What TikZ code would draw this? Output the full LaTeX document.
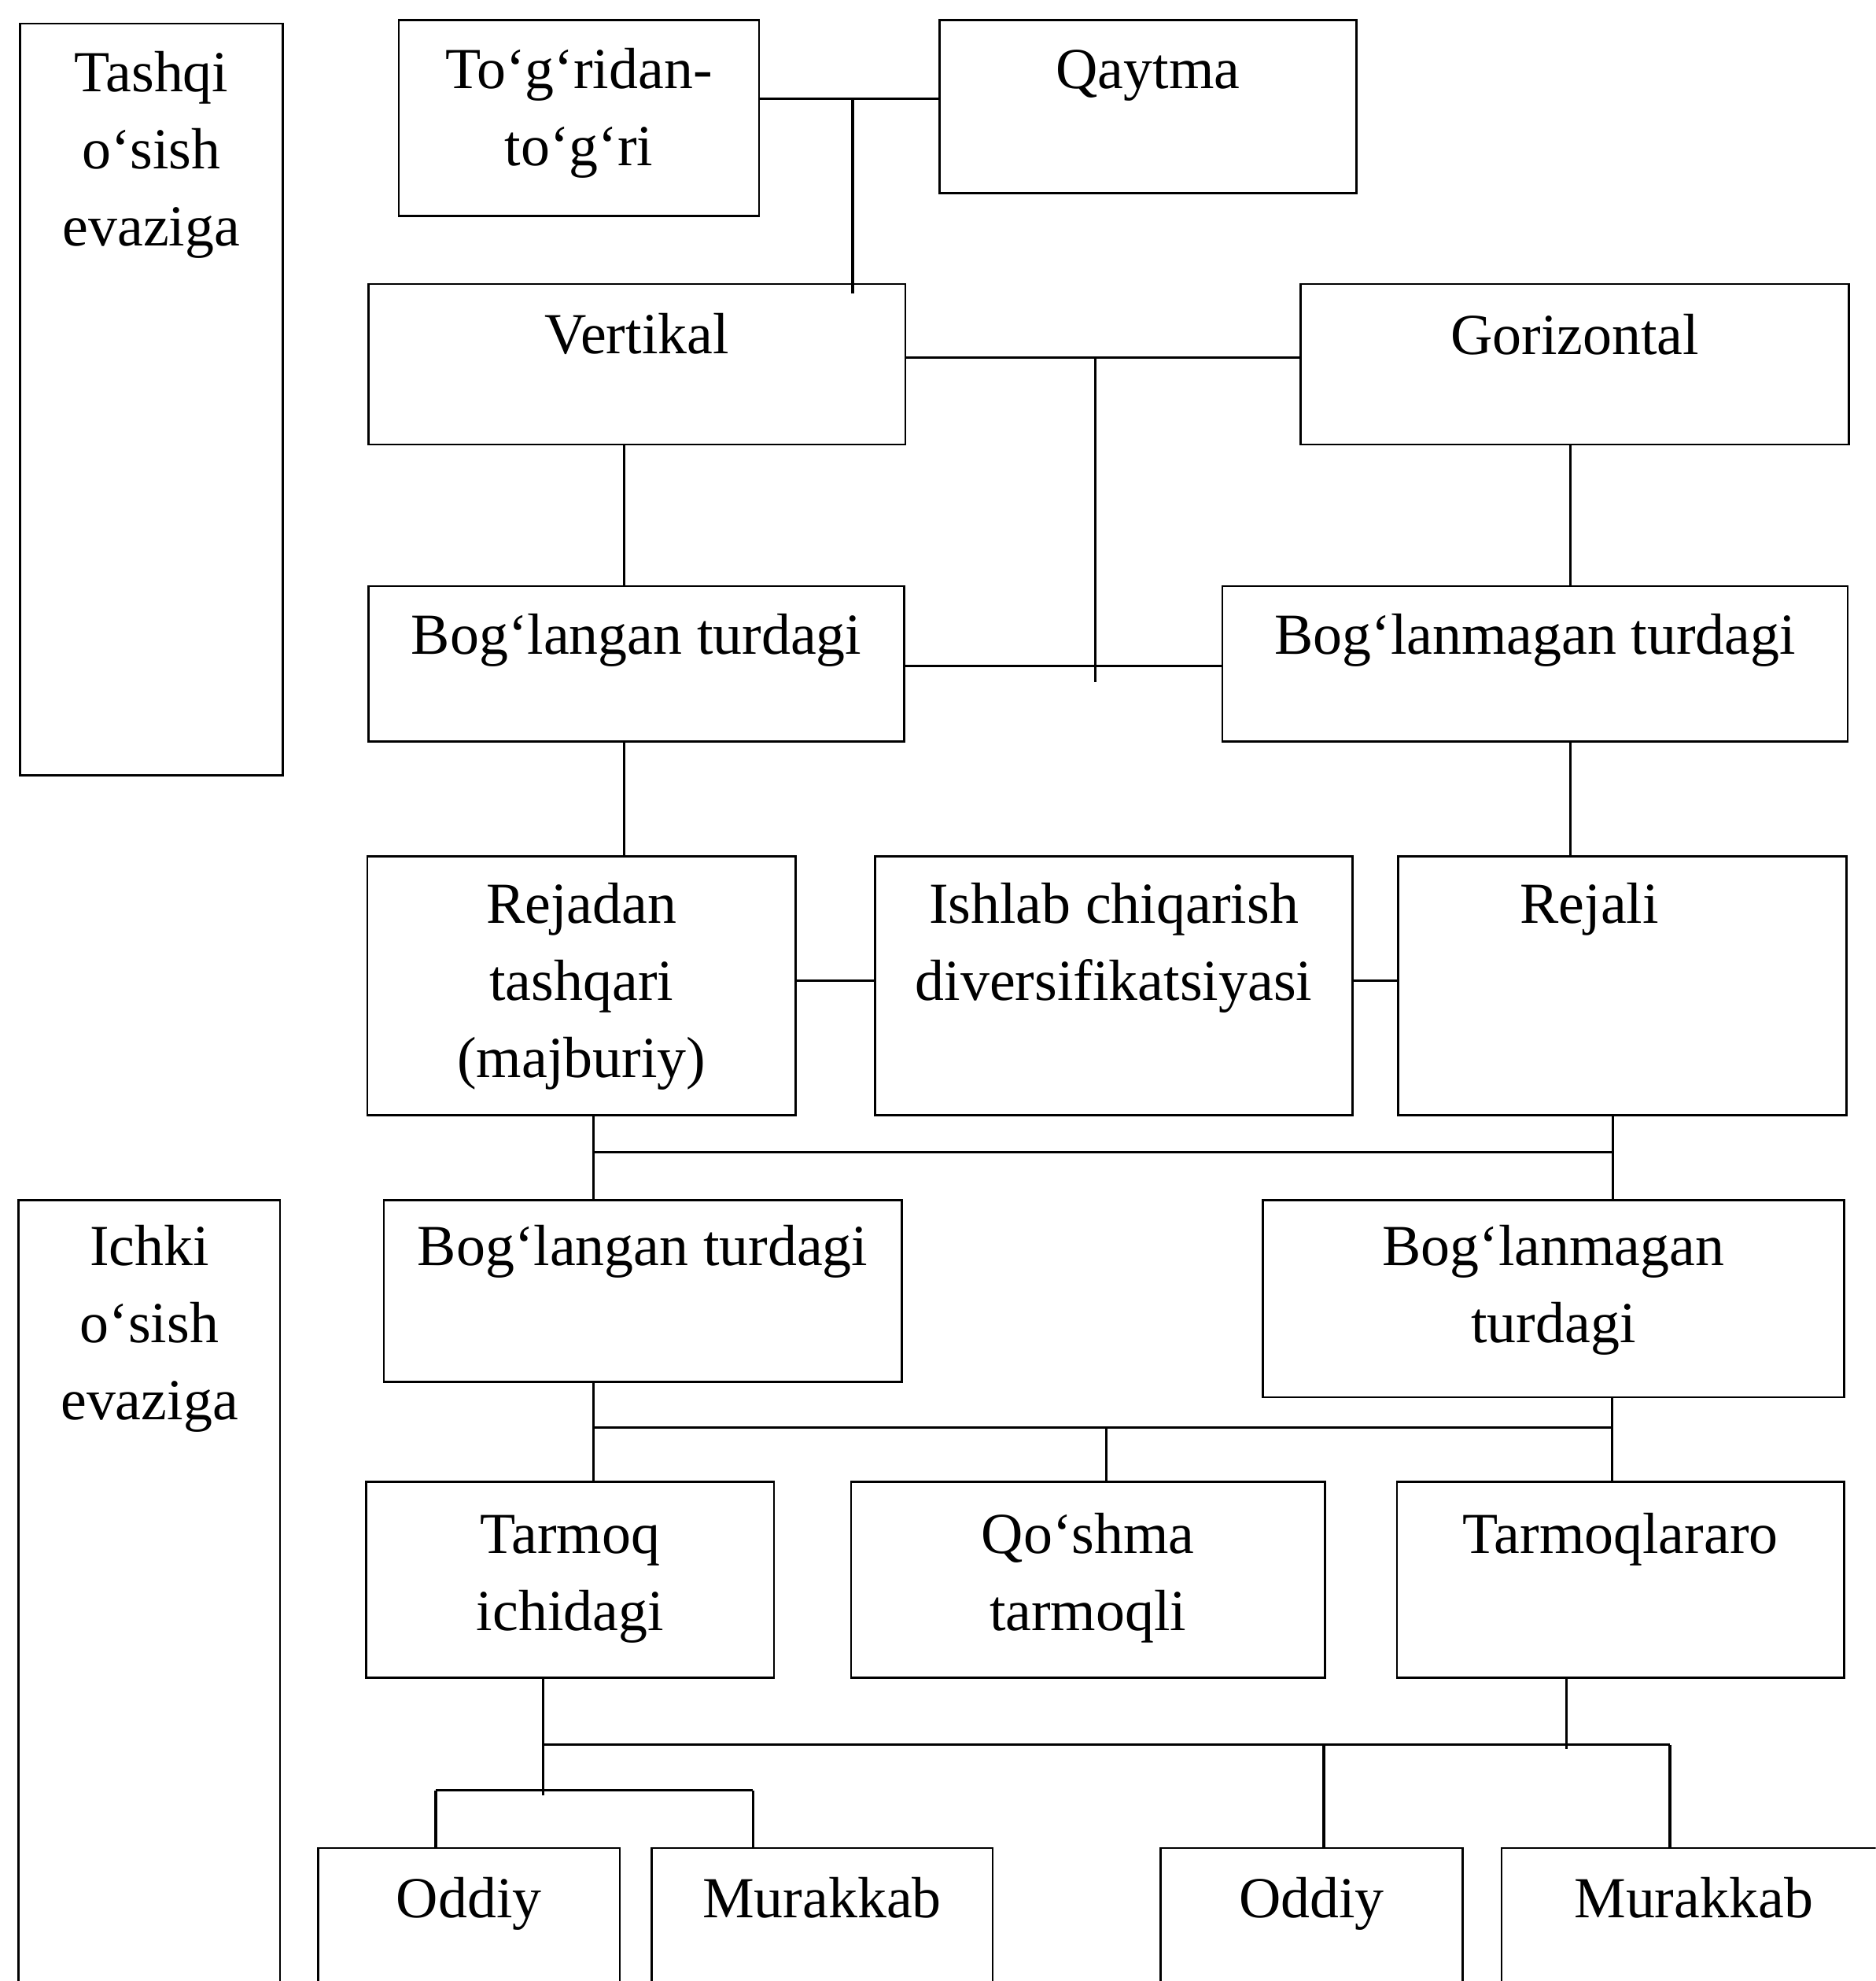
\documentclass[tikz,border=0pt]{standalone}
\usepackage{fontspec}
\setmainfont{Liberation Serif}
\newlength\unitlen
\setlength\unitlen{0.5pt}
% width, height, first-baseline offset, text
\newcommand\bx[4]{\parbox[t][#2\unitlen][t]{#1\unitlen}{\centering\rule{0pt}{#3\unitlen}#4\par}}
\begin{document}
\begin{tikzpicture}[x=0.5pt,y=-0.5pt,
  box/.style={draw, line width=0.8pt, inner sep=0pt, anchor=north west,
    font=\fontsize{23}{30.5}\selectfont},
  conn/.style={line width=1pt}]
\useasboundingbox (0,0) rectangle (1485,1568);
\clip (0,0) rectangle (1485,1568);

% ---- boxes ----
\node[box] (tashqi)  at (15,18)   {\bx{208}{595}{54}{Tashqi\\o‘sish\\evaziga}};
\node[box] (togri)   at (315,15)  {\bx{285}{155}{54}{To‘g‘ridan-\\to‘g‘ri}};
\node[box] (qaytma)  at (743,15)  {\bx{330}{137}{54}{Qaytma}};
\node[box] (vert)    at (291,224) {\bx{425}{127}{55}{Vertikal}};
\node[box] (gor)     at (1029,224){\bx{434}{127}{56}{Gorizontal}};
\node[box] (bog1)    at (291,463) {\bx{424}{123}{54}{Bog‘langan turdagi}};
\node[box] (bogm1)   at (967,463) {\bx{495}{123}{54}{Bog‘lanmagan turdagi}};
\node[box] (rejadan) at (290,677) {\bx{339}{205}{53}{Rejadan\\tashqari\\(majburiy)}};
\node[box] (ishlab)  at (692,677) {\bx{378}{205}{53}{Ishlab chiqarish\\diversifikatsiyasi}};
\node[box] (rejali)  at (1106,677){\bx{355}{205}{53}{Rejali\hspace*{26pt}}};
\node[box] (ichki)   at (14,949)  {\bx{207}{660}{52}{Ichki\\o‘sish\\evaziga}};
\node[box] (bog2)    at (303,949) {\bx{410}{144}{52}{Bog‘langan turdagi}};
\node[box] (bogm2)   at (999,949) {\bx{460}{156}{52}{Bog‘lanmagan\\turdagi}};
\node[box] (tarmoq)  at (289,1172){\bx{323}{155}{57}{Tarmoq\\ichidagi}};
\node[box] (qoshma)  at (673,1172){\bx{375}{155}{57}{Qo‘shma\\tarmoqli}};
\node[box] (tarmoql) at (1105,1172){\bx{354}{155}{57}{Tarmoqlararo}};
\node[box] (oddiy1)  at (251,1462){\bx{239}{150}{55}{Oddiy}};
\node[box] (murak1)  at (515,1462){\bx{270}{150}{55}{Murakkab}};
\node[box] (oddiy2)  at (918,1462){\bx{239}{150}{55}{Oddiy}};
\node[box] (murak2)  at (1188,1462){\bx{304}{150}{55}{Murakkab}};

% ---- junction coordinates ----
\coordinate (j1) at (675,78);
\coordinate (j2) at (867,283);
\coordinate (j3) at (867,540);
\coordinate (j4) at (867,527);
\coordinate (c1) at (494,0);
\coordinate (c2) at (1243,0);
\coordinate (c3) at (0,776);
\coordinate (b1) at (470,912);
\coordinate (b2) at (1277,912);
\coordinate (b3) at (470,1130);
\coordinate (b4) at (1276,1130);
\coordinate (q1) at (876,1130);
\coordinate (b5) at (430,1381);
\coordinate (b5e) at (430,1421);
\coordinate (b6) at (1322,1381);
\coordinate (t1) at (1240,1384);
\coordinate (o2) at (1048,1381);
\coordinate (b7) at (345,1417);
\coordinate (b8) at (596,1417);

% ---- connectors ----
\draw[conn] (togri.east |- j1) -- (qaytma.west |- j1);
\draw[conn] (j1) -- ([yshift=-4pt]j1 |- vert.north);
\draw[conn] (vert.east |- j2) -- (gor.west |- j2);
\draw[conn] (j2) -- (j3);
\draw[conn] (bog1.east |- j4) -- (bogm1.west |- j4);
\draw[conn] (vert.south -| c1) -- (bog1.north -| c1);
\draw[conn] (gor.south -| c2) -- (bogm1.north -| c2);
\draw[conn] (bog1.south -| c1) -- (rejadan.north -| c1);
\draw[conn] (bogm1.south -| c2) -- (rejali.north -| c2);
\draw[conn] (rejadan.east |- c3) -- (ishlab.west |- c3);
\draw[conn] (ishlab.east |- c3) -- (rejali.west |- c3);
\draw[conn] (rejadan.south -| b1) -- (bog2.north -| b1);
\draw[conn] (rejali.south -| b2) -- (bogm2.north -| b2);
\draw[conn] (b1) -- (b2);
\draw[conn] (bog2.south -| b3) -- (tarmoq.north -| b3);
\draw[conn] (b3) -- (b4);
\draw[conn] (q1) -- (qoshma.north -| q1);
\draw[conn] (bogm2.south -| b4) -- (tarmoql.north -| b4);
\draw[conn] (tarmoq.south -| b5) -- (b5e);
\draw[conn] (b5) -- (b6);
\draw[conn] (tarmoql.south -| t1) -- (t1);
\draw[conn] (o2) -- (oddiy2.north -| o2);
\draw[conn] (b6) -- (murak2.north -| b6);
\draw[conn] (b7) -- (b8);
\draw[conn] (b7) -- (oddiy1.north -| b7);
\draw[conn] (b8) -- (murak1.north -| b8);
\end{tikzpicture}
\end{document}
